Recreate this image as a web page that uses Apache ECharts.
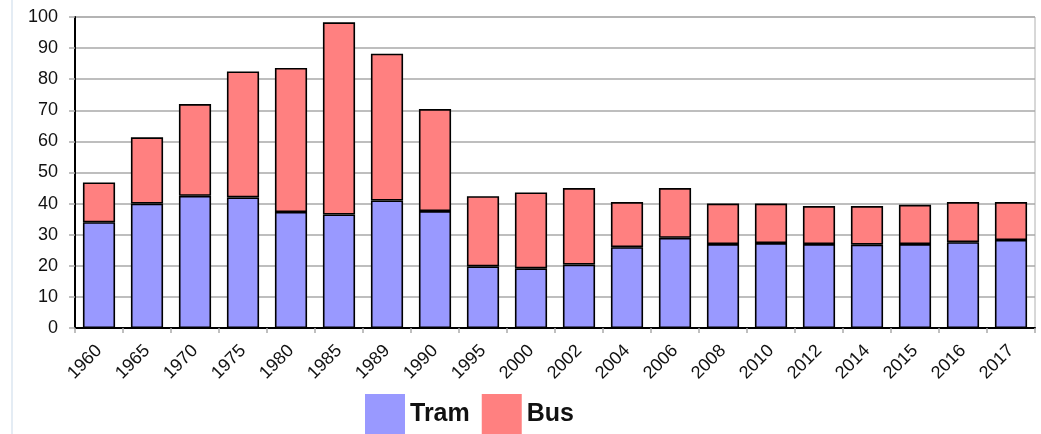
<!DOCTYPE html>
<html>
<head>
<meta charset="utf-8">
<script src="https://cdn.jsdelivr.net/npm/echarts@6/dist/echarts.min.js"></script>
<style>
  html, body { margin: 0; padding: 0; background: #fff; }
  #chart { width: 1041px; height: 434px; }
</style>
</head>
<body>
<div id="chart"></div>
<script>
// Years shown on the category axis
const years = ['1960', '1965', '1970', '1975', '1980', '1985', '1989', '1990', '1995', '2000',
               '2002', '2004', '2006', '2008', '2010', '2012', '2014', '2015', '2016', '2017'];

// Stacked segments: tram at the bottom, bus on top
const tram = [34, 40, 42.5, 42, 37.3, 36.5, 41, 37.6, 19.8, 19.2,
              20.4, 26, 29, 27, 27.3, 27, 26.8, 27, 27.6, 28.3];
const bus = [12.8, 21.3, 29.5, 40.5, 46.3, 61.8, 47.2, 32.8, 22.6, 24.4,
             24.6, 14.5, 16, 13, 12.7, 12.2, 12.4, 12.6, 12.9, 12.2];

const yTicks = { min: 0, max: 100, interval: 10 };

const chart = echarts.init(document.getElementById('chart'), null, { renderer: 'canvas' });

const barStyle = (color) => ({
  color: color,
  borderColor: '#000',
  borderWidth: 1.6
});

chart.setOption({
  animation: false,
  backgroundColor: '#fff',
  textStyle: { fontFamily: 'Liberation Sans, Arial, sans-serif' },
  grid: {
    left: 75, right: 6, top: 17, bottom: 106,
    show: true, borderColor: '#b0b0b0', borderWidth: 1
  },
  legend: {
    bottom: -5,
    left: 360,
    itemWidth: 40,
    itemHeight: 40,
    itemGap: 12,
    icon: 'rect',
    itemStyle: { borderWidth: 0 },
    textStyle: {
      fontSize: 25,
      fontWeight: 'bold',
      color: '#111',
      fontFamily: 'Liberation Sans, Arial, sans-serif'
    },
    data: ['Tram', 'Bus']
  },
  xAxis: {
    type: 'category',
    data: years,
    axisLine: { lineStyle: { color: '#000', width: 2 } },
    axisTick: { show: true, length: 5, lineStyle: { color: '#aaa', width: 1.5 } },
    axisLabel: {
      rotate: 45,
      fontSize: 18,
      color: '#111',
      margin: 20,
      interval: 0
    }
  },
  yAxis: {
    type: 'value',
    min: yTicks.min,
    max: yTicks.max,
    interval: yTicks.interval,
    axisLine: { show: true, lineStyle: { color: '#000', width: 2 } },
    axisTick: { show: true, length: 6, lineStyle: { color: '#aaa', width: 1.5 } },
    axisLabel: { fontSize: 18, color: '#111', margin: 17 },
    splitLine: { show: true, lineStyle: { color: '#a8a8a8', width: 1.5 } }
  },
  series: [
    {
      name: 'Tram',
      type: 'bar',
      stack: 'total',
      barWidth: '67%',
      itemStyle: barStyle('#9999ff'),
      data: tram
    },
    {
      name: 'Bus',
      type: 'bar',
      stack: 'total',
      barWidth: '67%',
      itemStyle: barStyle('#ff8080'),
      data: bus
    }
  ],
  graphic: [
    {
      type: 'line',
      shape: { x1: 12, y1: 0, x2: 12, y2: 434 },
      style: { stroke: '#e4ecf4', lineWidth: 2 }
    }
  ]
});
</script>
</body>
</html>
